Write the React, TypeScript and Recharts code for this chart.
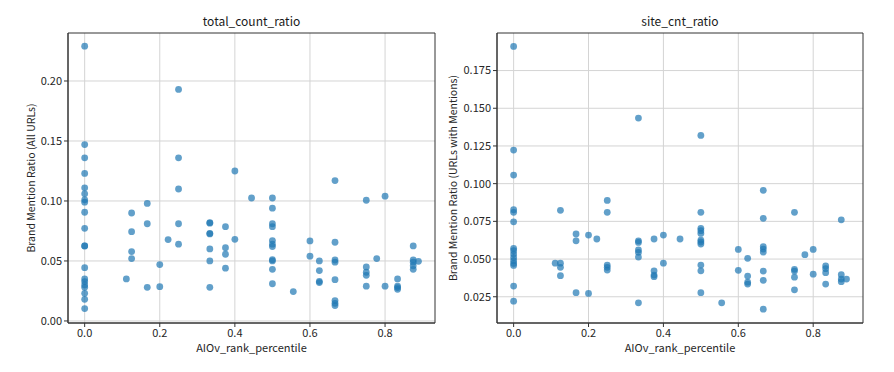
import { FC } from 'react';
import { ScatterChart, Scatter, XAxis, YAxis, CartesianGrid, Label, ReferenceArea } from 'recharts';

// AIOv rank percentile per row, total_count_ratio panel
const totalRank = [
	0, 0, 0, 0, 0, 0, 0, 0, 0, 0, 0, 0, 0, 0, 0, 0, 0, 0, 0, 0,
	0.111, 0.125, 0.125, 0.125, 0.125, 0.1667, 0.1667, 0.1667, 0.2, 0.2, 0.2222,
	0.25, 0.25, 0.25, 0.25, 0.25,
	0.3333, 0.3333, 0.3333, 0.3333, 0.3333, 0.3333, 0.3333,
	0.375, 0.375, 0.375, 0.375, 0.4, 0.4, 0.4444,
	0.5, 0.5, 0.5, 0.5, 0.5, 0.5, 0.5, 0.5, 0.5, 0.5, 0.5,
	0.5556, 0.6, 0.6, 0.625, 0.625, 0.625, 0.625,
	0.6667, 0.6667, 0.6667, 0.6667, 0.6667, 0.6667, 0.6667, 0.6667,
	0.75, 0.75, 0.75, 0.75, 0.75, 0.7778, 0.8, 0.8,
	0.8333, 0.8333, 0.8333, 0.8333, 0.875, 0.875, 0.875, 0.875, 0.875, 0.8889,
];
const totalRatio = [
	0.229, 0.147, 0.136, 0.123, 0.111, 0.106, 0.101, 0.099, 0.0906, 0.0772,
	0.0625, 0.0625, 0.0444, 0.035, 0.0328, 0.03, 0.028, 0.023, 0.018, 0.0103,
	0.035, 0.09, 0.0744, 0.0578, 0.052, 0.098, 0.081, 0.028, 0.047, 0.0286, 0.0678,
	0.193, 0.136, 0.11, 0.081, 0.064,
	0.082, 0.0815, 0.073, 0.0725, 0.06, 0.05, 0.028,
	0.0786, 0.061, 0.0556, 0.044, 0.125, 0.068, 0.1025,
	0.1025, 0.094, 0.081, 0.0786, 0.067, 0.064, 0.062, 0.051, 0.05, 0.043, 0.031,
	0.0245, 0.0667, 0.054, 0.05, 0.042, 0.033, 0.032,
	0.117, 0.0656, 0.0508, 0.049, 0.0344, 0.017, 0.0147, 0.0128,
	0.1006, 0.045, 0.0406, 0.038, 0.029, 0.052, 0.104, 0.029,
	0.035, 0.029, 0.0278, 0.0264, 0.0625, 0.0508, 0.049, 0.046, 0.043, 0.0497,
];

// site_cnt_ratio panel
const siteRank = [
	0, 0, 0, 0, 0, 0, 0, 0, 0, 0, 0, 0, 0, 0, 0,
	0.111, 0.125, 0.125, 0.125, 0.125, 0.1667, 0.1667, 0.1667, 0.2, 0.2, 0.2222,
	0.25, 0.25, 0.25, 0.25, 0.25,
	0.3333, 0.3333, 0.3333, 0.3333, 0.3333, 0.3333, 0.3333,
	0.375, 0.375, 0.375, 0.375, 0.4, 0.4, 0.4444,
	0.5, 0.5, 0.5, 0.5, 0.5, 0.5, 0.5, 0.5, 0.5, 0.5, 0.5,
	0.5556, 0.6, 0.6, 0.625, 0.625, 0.625, 0.625,
	0.6667, 0.6667, 0.6667, 0.6667, 0.6667, 0.6667, 0.6667, 0.6667,
	0.75, 0.75, 0.75, 0.75, 0.75, 0.7778, 0.8, 0.8,
	0.8333, 0.8333, 0.8333, 0.8333, 0.875, 0.875, 0.875, 0.875, 0.8889,
];
const siteRatio = [
	0.191, 0.1223, 0.1057, 0.0827, 0.081, 0.0747, 0.0571, 0.0555, 0.0533, 0.0511,
	0.0489, 0.0471, 0.0458, 0.0321, 0.0221,
	0.0473, 0.0823, 0.0473, 0.0445, 0.039, 0.0666, 0.0621, 0.0277, 0.0659, 0.0272, 0.0633,
	0.0889, 0.081, 0.046, 0.0445, 0.0427,
	0.1435, 0.0621, 0.061, 0.056, 0.0544, 0.0513, 0.021,
	0.0633, 0.0422, 0.0394, 0.0383, 0.0659, 0.0473, 0.0633,
	0.132, 0.081, 0.0704, 0.0688, 0.067, 0.0626, 0.0613, 0.06, 0.046, 0.0422, 0.0277,
	0.021, 0.0564, 0.0425, 0.0505, 0.0387, 0.0347, 0.0334,
	0.0956, 0.077, 0.0582, 0.0566, 0.0546, 0.042, 0.0359, 0.0168,
	0.081, 0.0432, 0.042, 0.038, 0.0296, 0.0529, 0.0564, 0.04,
	0.0454, 0.0436, 0.041, 0.0334, 0.076, 0.0396, 0.0367, 0.035, 0.0367,
];

const xTicks = [0, 0.2, 0.4, 0.6, 0.8];
const xDomain: [number, number] = [-0.0444, 0.933];
const totalTicks = [0, 0.05, 0.1, 0.15, 0.2];
const siteTicks = [0.025, 0.05, 0.075, 0.1, 0.125, 0.15, 0.175];

const FONT = "'Noto Sans CJK JP', 'DejaVu Sans', sans-serif";
const tickStyle = { fontSize: 11, fill: '#262626', fontFamily: FONT };

const dot = (props: any) => (
	<circle cx={props.cx} cy={props.cy} r={3.4} fill='#1f77b4' fillOpacity={0.7} />
);

type PanelProps = {
	rank: number[];
	ratio: number[];
	title: string;
	yLabel: string;
	yDomain: [number, number];
	yTicks: number[];
	yDigits: number;
	left: number;
	width: number;
	margin: { top: number; right: number; bottom: number; left: number };
	yAxisWidth: number;
	yLabelX: number;
};

const Panel: FC<PanelProps> = (p) => {
	const data = p.rank.map((r, i) => ({ rank: r, ratio: p.ratio[i] }));
	return (
		<div style={{ position: 'absolute', left: p.left, top: 0 }}>
			<ScatterChart width={p.width} height={372} margin={p.margin}>
				<CartesianGrid stroke='#d4d4d4' strokeWidth={1} horizontalValues={p.yTicks} verticalValues={xTicks} />
				<XAxis
					type='number'
					dataKey='rank'
					domain={xDomain}
					ticks={xTicks}
					tickFormatter={(v: number) => v.toFixed(1)}
					allowDataOverflow
					height={30}
					tick={tickStyle}
					tickSize={4}
					tickMargin={2}
					stroke='#333'
				>
					<Label
						content={(lp: any) => (
							<text
								x={lp.viewBox.x + lp.viewBox.width / 2}
								y={352}
								textAnchor='middle'
								fontSize={11}
								fill='#262626'
								fontFamily={FONT}
							>
								AIOv_rank_percentile
							</text>
						)}
					/>
				</XAxis>
				<YAxis
					type='number'
					dataKey='ratio'
					domain={p.yDomain}
					ticks={p.yTicks}
					tickFormatter={(v: number) => v.toFixed(p.yDigits)}
					allowDataOverflow
					width={p.yAxisWidth}
					tick={tickStyle}
					tickSize={4}
					tickMargin={2}
					stroke='#333'
				>
					<Label
						content={(lp: any) => {
							const cy = lp.viewBox.y + lp.viewBox.height / 2;
							return (
								<text
									x={p.yLabelX}
									y={cy}
									transform={`rotate(-90, ${p.yLabelX}, ${cy})`}
									textAnchor='middle'
									dominantBaseline='middle'
									fontSize={10.5}
									fill='#262626'
									fontFamily={FONT}
								>
									{p.yLabel}
								</text>
							);
						}}
					/>
				</YAxis>
				<Scatter data={data} shape={dot} isAnimationActive={false} />
				<ReferenceArea
					x1={xDomain[0]}
					x2={xDomain[1]}
					y1={p.yDomain[0]}
					y2={p.yDomain[1]}
					fill='none'
					stroke='#333'
					strokeWidth={1}
					ifOverflow='visible'
				>
					<Label
						content={(lp: any) => (
							<text
								x={lp.viewBox.x + lp.viewBox.width / 2}
								y={26}
								textAnchor='middle'
								fontSize={12}
								fill='#1a1a1a'
								fontFamily={FONT}
							>
								{p.title}
							</text>
						)}
					/>
				</ReferenceArea>
			</ScatterChart>
		</div>
	);
};

const App: FC = () => {
	return (
		<div style={{ position: 'absolute', left: 0, top: 0, width: 894, height: 372, background: '#fff', fontFamily: FONT }}>
			<Panel
				rank={totalRank}
				ratio={totalRatio}
				title='total_count_ratio'
				yLabel='Brand Mention Ratio (All URLs)'
				yDomain={[-0.0017, 0.24]}
				yTicks={totalTicks}
				yDigits={2}
				left={0}
				width={440}
				margin={{ top: 33, right: 5, bottom: 19, left: 28 }}
				yAxisWidth={40}
				yLabelX={32}
			/>
			<Panel
				rank={siteRank}
				ratio={siteRatio}
				title='site_cnt_ratio'
				yLabel='Brand Mention Ratio (URLs with Mentions)'
				yDomain={[0.0076, 0.1999]}
				yTicks={siteTicks}
				yDigits={3}
				left={440}
				width={454}
				margin={{ top: 33, right: 31, bottom: 19, left: 12 }}
				yAxisWidth={45}
				yLabelX={14}
			/>
		</div>
	);
};

export default App;
